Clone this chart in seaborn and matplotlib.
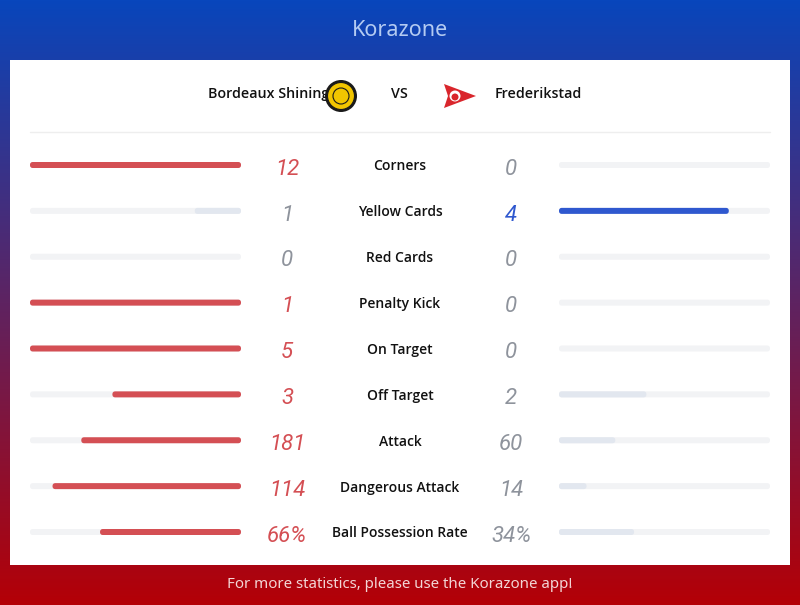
import numpy as np
import pandas as pd
import matplotlib
matplotlib.use("Agg")
import matplotlib.pyplot as plt
import matplotlib.transforms as mtransforms
from matplotlib.patches import Rectangle, Circle, Polygon
import seaborn as sns

# ---- data ----
stats = ["Corners", "Yellow Cards", "Red Cards", "Penalty Kick", "On Target",
         "Off Target", "Attack", "Dangerous Attack", "Ball Possession Rate"]
home_vals = [12, 1, 0, 1, 5, 3, 181, 114, 66]
away_vals = [0, 4, 0, 0, 0, 2, 60, 14, 34]
home_labels = ["12", "1", "0", "1", "5", "3", "181", "114", "66%"]
away_labels = ["0", "4", "0", "0", "0", "2", "60", "14", "34%"]
home_team = "Bordeaux Shining"
away_team = "Frederikstad"
title = "Korazone"
footer = "For more statistics, please use the Korazone app!"

RED = "#d44f54"
BLUE = "#2f58cf"
LOSE_BAR = "#e2e7ef"
TRACK = "#f2f3f5"
GRAY_NUM = "#8e939c"

sns.set_theme(style="white")
plt.rcParams["font.family"] = ["Open Sans", "Noto Sans", "DejaVu Sans"]

W, H = 800, 605
fig = plt.figure(figsize=(W / 100, H / 100), dpi=100)

# background gradient
ax_bg = fig.add_axes([0, 0, 1, 1])
ax_bg.set_xlim(0, W)
ax_bg.set_ylim(H, 0)
ax_bg.axis("off")
top = np.array([8, 70, 188]) / 255
bot = np.array([180, 0, 6]) / 255
t = np.linspace(0, 1, H)[:, None, None]
grad = top * (1 - t) + bot * t
ax_bg.imshow(grad, extent=[0, W, H, 0], aspect="auto", zorder=0)
ax_bg.add_patch(Rectangle((10, 60), 780, 505, facecolor="white", edgecolor="none", zorder=1))
ax_bg.plot([30, 770], [132, 132], color="#eeeeee", lw=1, zorder=2)

ax_bg.text(400, 31, title, color="#b4cbf2", fontsize=15.5, ha="center", va="center",
           zorder=3, family=["Noto Sans", "DejaVu Sans"])
ax_bg.text(400, 585, footer, color="#f3d6d6", fontsize=10.8, ha="center", va="center",
           zorder=3, family=["Noto Sans", "DejaVu Sans"])

# team row
ax_bg.text(208, 94, home_team, color="#111111", fontsize=10.3, ha="left", va="center",
           fontweight="semibold", zorder=3)
ax_bg.text(399, 94, "VS", color="#111111", fontsize=10.3, ha="center", va="center",
           fontweight="semibold", zorder=3)
ax_bg.text(495, 94, away_team, color="#111111", fontsize=10.3, ha="left", va="center",
           fontweight="semibold", zorder=3)
# home logo
ax_bg.add_patch(Circle((341, 96), 16, facecolor="#1a1a1a", edgecolor="none", zorder=4))
ax_bg.add_patch(Circle((341, 96), 13.5, facecolor="#f2c500", edgecolor="#1a1a1a", lw=0.8, zorder=5))
ax_bg.add_patch(Circle((341, 96), 8, facecolor="none", edgecolor="#1a1a1a", lw=0.8, zorder=6))
# away logo (pennant)
ax_bg.add_patch(Polygon([(444, 84), (476, 96), (444, 108), (448, 96)], closed=True,
                        facecolor="#d9262c", edgecolor="none", zorder=4))
ax_bg.add_patch(Circle((455, 96), 5.5, facecolor="white", edgecolor="none", zorder=5))
ax_bg.add_patch(Circle((455, 97), 3.5, facecolor="#d9262c", edgecolor="none", zorder=6))

# bar axes geometry
row0, rowN = 165, 532
step = (rowN - row0) / (len(stats) - 1)
y_top = row0 - step / 2
y_bot = rowN + step / 2
edge = 5.0   # px of edge stroke
core = 1.0   # px of core rect height
cap = edge / 2
track_len = 211


def make_ax(x0):
    ax = fig.add_axes([x0 / W, 1 - y_bot / H, track_len / W, (y_bot - y_top) / H])
    ax.patch.set_alpha(0)
    return ax


ax_l = make_ax(30)
ax_r = make_ax(559)

tot = [h + a for h, a in zip(home_vals, away_vals)]
home_frac = [h / s if s else 0 for h, s in zip(home_vals, tot)]
away_frac = [a / s if s else 0 for a, s in zip(away_vals, tot)]

home_col = [RED if h > a else LOSE_BAR for h, a in zip(home_vals, away_vals)]
away_col = [BLUE if a > h else LOSE_BAR for h, a in zip(home_vals, away_vals)]
home_num_col = [RED if h > a else GRAY_NUM for h, a in zip(home_vals, away_vals)]
away_num_col = [BLUE if a > h else GRAY_NUM for h, a in zip(home_vals, away_vals)]

df = pd.DataFrame({"stat": stats, "home": home_frac, "away": away_frac,
                   "track": [1.0] * len(stats)})

lw_pt = edge * 72 / 100
pad = cap / (track_len - 2 * cap)
bar_h = core / step

for ax, col, colors in [(ax_l, "home", home_col), (ax_r, "away", away_col)]:
    sns.barplot(data=df, x="track", y="stat", order=stats, orient="h", color=TRACK,
                width=bar_h, errorbar=None, ax=ax, saturation=1)
    sns.barplot(data=df, x=col, y="stat", order=stats, hue="stat", hue_order=stats,
                palette=dict(zip(stats, colors)), orient="h", width=bar_h,
                errorbar=None, ax=ax, legend=False, saturation=1)
    for i, p in enumerate(ax.patches):
        fc = p.get_facecolor()
        p.set_edgecolor(fc)
        p.set_linewidth(lw_pt)
        p.set_joinstyle("round")
        p.set_snap(False)
        if p.get_width() <= 0:
            p.set_visible(False)
    if ax is ax_l:
        ax.set_xlim(1 + pad, -pad)
    else:
        ax.set_xlim(-pad, 1 + pad)
    ax.set_ylim(len(stats) - 0.5, -0.5)
    ax.axis("off")

# texts for numbers and labels: x in pixel coords, y in bar-axis data coords
tr = mtransforms.blended_transform_factory(ax_bg.transData, ax_l.transData)
for i, s in enumerate(stats):
    ax_l.text(400, i + 0.03, s, transform=tr, ha="center", va="center", fontsize=10,
              color="#111111", fontweight="semibold")
    ax_l.text(287, i + 0.09, home_labels[i], transform=tr, ha="center", va="center",
              fontsize=16, color=home_num_col[i], style="italic", family="Roboto")
    ax_l.text(511, i + 0.09, away_labels[i], transform=tr, ha="center", va="center",
              fontsize=16, color=away_num_col[i], style="italic", family="Roboto")

fig.savefig("out.png", dpi=100)
